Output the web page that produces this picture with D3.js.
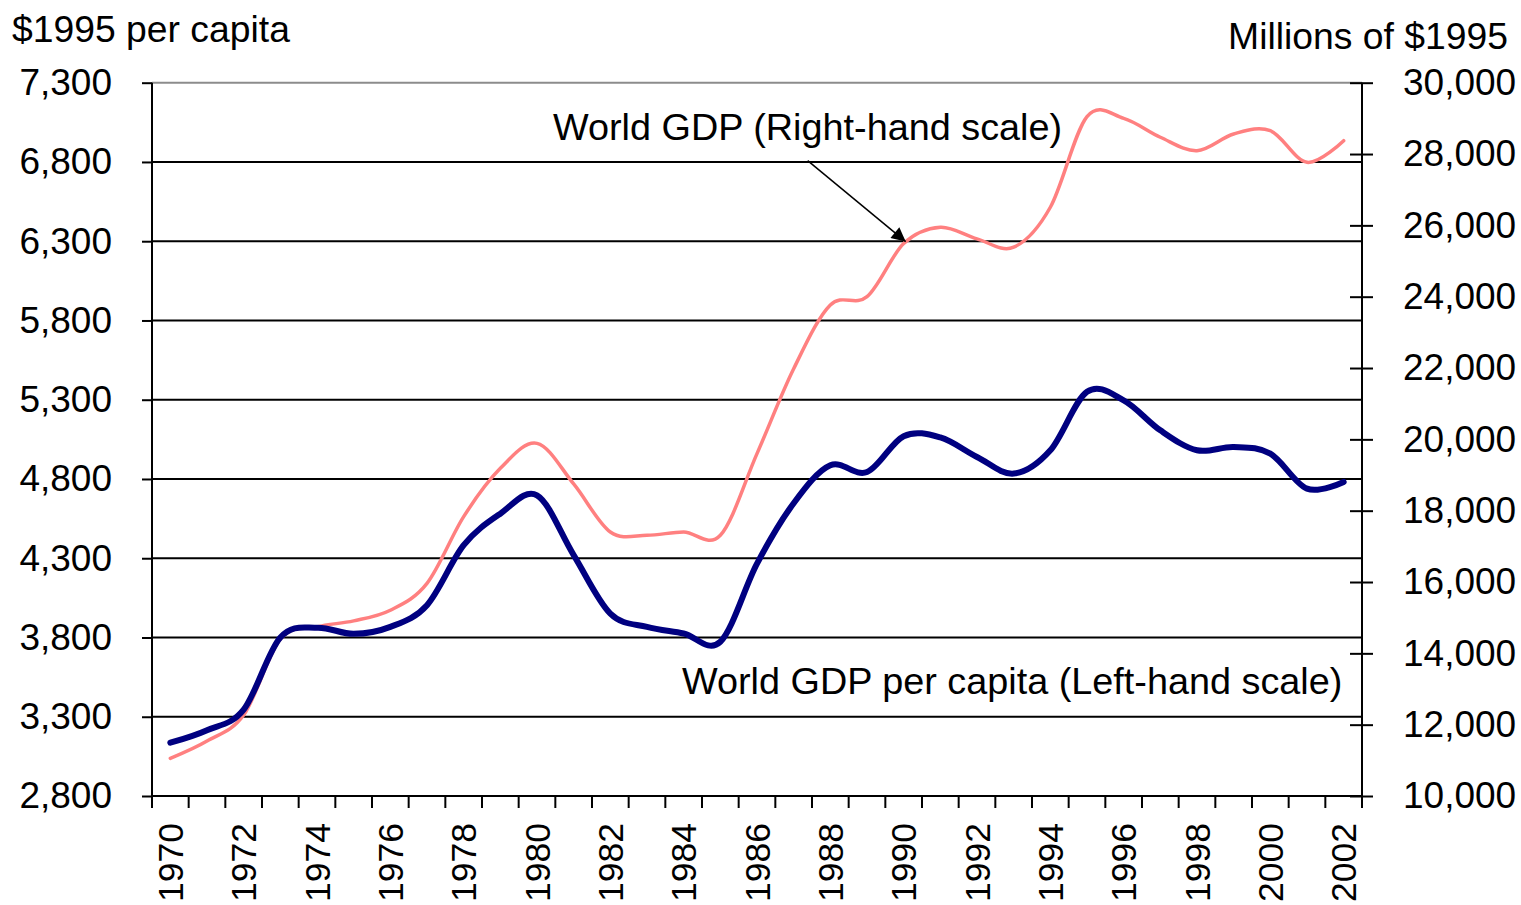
<!DOCTYPE html>
<html>
<head>
<meta charset="utf-8">
<script src="https://cdn.jsdelivr.net/npm/d3@7"></script>
<style>
  html, body { margin: 0; padding: 0; background: #fff; }
  svg text { font-family: "Liberation Sans", Arial, sans-serif; fill: #000; }
</style>
</head>
<body>
<svg id="chart" width="1521" height="905"></svg>
<script>
// ---- Data ----
const years = d3.range(1970, 2003);
const perCapita = [3136, 3215, 3345, 3800, 3862, 3823, 3867, 4004, 4382, 4581, 4697, 4320, 3951, 3867, 3825, 3773, 4266, 4647, 4886, 4844, 5070, 5062, 4939, 4834, 4981, 5350, 5296, 5107, 4981, 5002, 4960, 4739, 4781];
const worldGDP = [11056, 11540, 12270, 14400, 14743, 14911, 15210, 15961, 17832, 19187, 19888, 18750, 17403, 17311, 17403, 17311, 19599, 21980, 23765, 24000, 25490, 25948, 25622, 25387, 26508, 29050, 29000, 28470, 28095, 28563, 28655, 27768, 28375];
const leftTicks = d3.range(2800, 7301, 500);
const rightTicks = d3.range(10000, 30001, 2000);
const xLabelYears = years.filter(y => y % 2 === 0);
const leftTitle = "$1995 per capita";
const rightTitle = "Millions of $1995";
const gdpLabel = "World GDP (Right-hand scale)";
const pcLabel = "World GDP per capita (Left-hand scale)";

// ---- Layout ----
const L = 152, R = 1362, T = 82.7, B = 796;
const FONT = '"Liberation Sans", Arial, sans-serif';
const svg = d3.select("#chart");

const x = d3.scaleBand().domain(years).range([L, R]).padding(0);
const xc = y => x(y) + x.bandwidth() / 2;
const yL = d3.scaleLinear().domain([2800, 7300]).range([B, T]);
const yR = d3.scaleLinear().domain([10000, 30000]).range([B, T]);

// gridlines
svg.append("g").selectAll("line")
  .data(leftTicks.filter(v => v > 2800))
  .join("line")
  .attr("x1", L).attr("x2", R)
  .attr("y1", d => yL(d)).attr("y2", d => yL(d))
  .attr("stroke", d => d === 7300 ? "#8c8c8c" : "#000")
  .attr("stroke-width", 2);

// Left axis
const axL = svg.append("g").attr("transform", `translate(${L},0)`)
  .call(d3.axisLeft(yL).tickValues(leftTicks).tickSize(10).tickPadding(30).tickFormat(d3.format(",")));
axL.select(".domain").attr("stroke", "#000").attr("stroke-width", 2).attr("d", `M0,${T}V${B + 12}`);
axL.selectAll(".tick line").attr("stroke", "#000").attr("stroke-width", 2);
axL.selectAll(".tick text").attr("font-size", 37).style("font-family", FONT);

// Right axis
const axR = svg.append("g").attr("transform", `translate(${R},0)`)
  .call(d3.axisRight(yR).tickValues(rightTicks).tickSize(11).tickPadding(30).tickFormat(d3.format(",")));
axR.select(".domain").attr("stroke", "#000").attr("stroke-width", 2).attr("d", `M0,${T}V${B}`);
axR.selectAll(".tick line").attr("stroke", "#000").attr("stroke-width", 2).attr("x1", -12);
axR.selectAll(".tick text").attr("font-size", 37).style("font-family", FONT);

// Bottom axis
const axB = svg.append("g").attr("transform", `translate(0,${B})`)
  .call(d3.axisBottom(x).tickValues(xLabelYears).tickSize(0).tickPadding(0));
axB.select(".domain").attr("stroke", "#000").attr("stroke-width", 2).attr("d", `M${L},0H${R}`);
axB.selectAll(".tick text")
  .attr("font-size", 35.5)
  .style("font-family", FONT)
  .attr("transform", "rotate(-90)")
  .attr("x", -27).attr("y", 0).attr("dy", "0.36em")
  .attr("text-anchor", "end");
// category boundary ticks
axB.append("g").selectAll("line")
  .data(years.map(y => x(y)).concat([R]))
  .join("line")
  .attr("x1", d => d).attr("x2", d => d)
  .attr("y1", 0).attr("y2", 12)
  .attr("stroke", "#000").attr("stroke-width", 2);

// Lines
const curve = d3.curveCardinal.tension(0);
svg.append("path")
  .datum(years.map((y, i) => [xc(y), yR(worldGDP[i])]))
  .attr("d", d3.line().curve(curve))
  .attr("fill", "none").attr("stroke", "#ff8080").attr("stroke-width", 3.5)
  .attr("stroke-linejoin", "round").attr("stroke-linecap", "round");
svg.append("path")
  .datum(years.map((y, i) => [xc(y), yL(perCapita[i])]))
  .attr("d", d3.line().curve(curve))
  .attr("fill", "none").attr("stroke", "#000080").attr("stroke-width", 6)
  .attr("stroke-linejoin", "round").attr("stroke-linecap", "round");

// Titles
svg.append("text").attr("x", 12).attr("y", 42).attr("font-size", 37.3).text(leftTitle);
svg.append("text").attr("x", 1508).attr("y", 49).attr("font-size", 37.3).attr("text-anchor", "end").text(rightTitle);

// Annotations
svg.append("text").attr("x", 553).attr("y", 140).attr("font-size", 37.8).text(gdpLabel);
svg.append("text").attr("x", 682).attr("y", 694).attr("font-size", 37.8).text(pcLabel);

// Arrow
svg.append("defs").append("marker")
  .attr("id", "ah").attr("viewBox", "0 0 10 10").attr("refX", 10).attr("refY", 5)
  .attr("markerWidth", 20).attr("markerHeight", 14).attr("markerUnits", "userSpaceOnUse")
  .attr("orient", "auto")
  .append("path").attr("d", "M0,0L10,5L0,10Z").attr("fill", "#000");
const tipX = xc(1990) + 2, tipY = yR(worldGDP[years.indexOf(1990)]) - 2;
svg.append("line")
  .attr("x1", tipX - 98).attr("y1", tipY - 81)
  .attr("x2", tipX).attr("y2", tipY)
  .attr("stroke", "#000").attr("stroke-width", 1.5)
  .attr("marker-end", "url(#ah)");
</script>
</body>
</html>
